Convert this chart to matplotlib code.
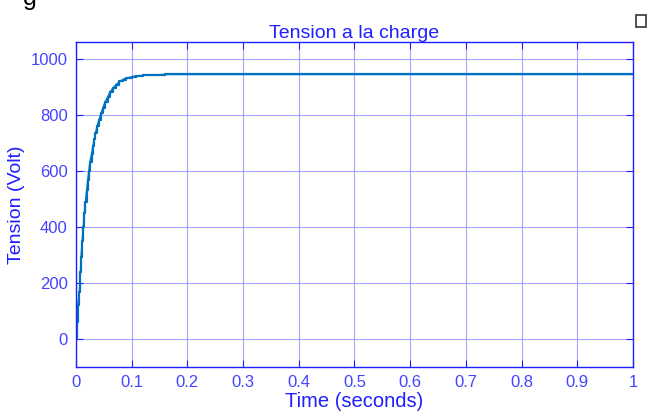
import numpy as np
import matplotlib.pyplot as plt
from matplotlib.patches import Rectangle

temps = [0.0, 0.002, 0.003, 0.005, 0.006, 0.008, 0.009, 0.011, 0.013, 0.015,
         0.017, 0.019, 0.021, 0.023, 0.025, 0.028, 0.030, 0.033, 0.035, 0.038,
         0.041, 0.045, 0.048, 0.052, 0.057, 0.061, 0.066, 0.072, 0.078, 0.084,
         0.090, 0.100, 0.108, 0.120, 0.138, 0.160, 0.186, 0.300, 0.500, 0.700,
         1.0]
tension = [0, 60, 121, 150, 169, 240, 294, 350, 401, 450,
           490, 530, 568, 600, 633, 660, 687, 712, 735, 760,
           782, 805, 824, 845, 865, 882, 895, 908, 919, 926,
           931, 936, 939, 941, 943, 944, 944, 944, 944, 944,
           944]

xticks = np.arange(0, 1.01, 0.1)
xlabels = ['0', '0.1', '0.2', '0.3', '0.4', '0.5', '0.6', '0.7', '0.8', '0.9', '1']
yticks = [0, 200, 400, 600, 800, 1000]

bleu = '#1f1fff'
txt = '#4444ff'

plt.rcParams['font.family'] = ['Liberation Sans', 'DejaVu Sans']

fig = plt.figure(figsize=(6.49, 4.17), dpi=100)
ax = fig.add_axes([0.1171, 0.1199, 0.8582, 0.7794])

ax.plot(temps, tension, color='#0072BD', lw=1.6, drawstyle='steps-post')
ax.plot(temps, tension, color='#0072BD', lw=1.0)

ax.set_xlim(0, 1)
ax.set_ylim(-100, 1060)
ax.set_xticks(xticks)
ax.set_xticklabels(xlabels)
ax.set_yticks(yticks)

ax.grid(True, color='#9a9aff', lw=0.8, alpha=0.9)
ax.set_axisbelow(True)
for s in ax.spines.values():
    s.set_color(bleu)
    s.set_linewidth(1.0)
ax.tick_params(direction='in', colors=bleu, labelcolor=txt, labelsize=12,
               length=5, top=True, right=True, pad=6)

ax.set_title('Tension a la charge', color=bleu, fontsize=14, pad=3)
ax.set_xlabel('Time (seconds)', color=bleu, fontsize=14.5, labelpad=1)
ax.set_ylabel('Tension (Volt)', color=bleu, fontsize=14, labelpad=4)

# bout de texte du document (coupe en haut) et petite icone du scope
fig.text(0.036, 0.975, 'g', fontsize=18, color='black', va='bottom')
fig.patches.append(Rectangle((0.980, 0.935), 0.0154, 0.029, transform=fig.transFigure,
                             fill=False, edgecolor='#333333', lw=1.2))

fig.savefig('out.png', dpi=100)
